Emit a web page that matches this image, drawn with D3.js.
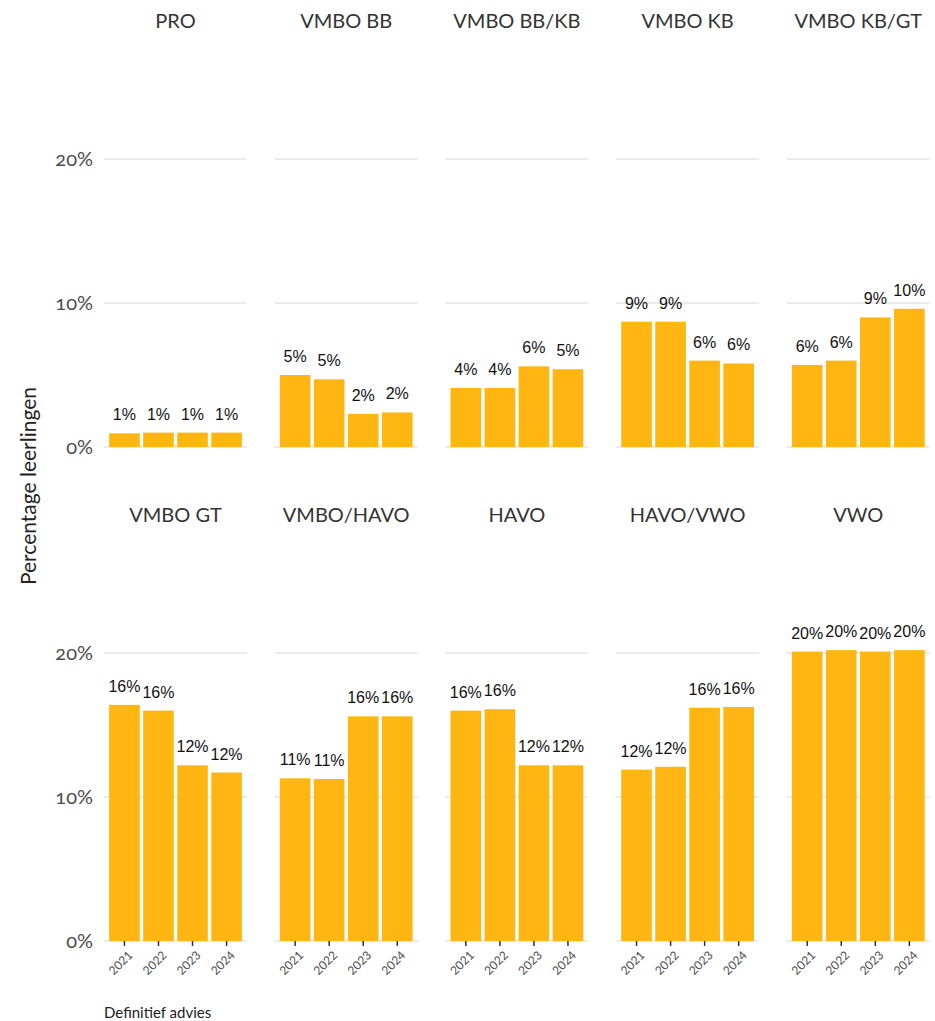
<!DOCTYPE html>
<html><head><meta charset="utf-8">
<script src="https://cdn.jsdelivr.net/npm/d3@7"></script>
<style>
body{margin:0;background:#fff;}
svg{display:block;}
</style></head>
<body>
<svg id="chart" width="935" height="1021"></svg>
<script>
const categories = ["PRO","VMBO BB","VMBO BB/KB","VMBO KB","VMBO KB/GT","VMBO GT","VMBO/HAVO","HAVO","HAVO/VWO","VWO"];
const years = ["2021","2022","2023","2024"];
const valPRO = [0.95, 1.0, 1.0, 1.0];
const valVMBOBB = [5.0, 4.7, 2.3, 2.4];
const valVMBOBBKB = [4.1, 4.1, 5.6, 5.4];
const valVMBOKB = [8.7, 8.7, 6.0, 5.8];
const valVMBOKBGT = [5.7, 6.0, 9.0, 9.6];
const valVMBOGT = [16.4, 16.0, 12.2, 11.7];
const valVMBOHAVO = [11.3, 11.25, 15.6, 15.6];
const valHAVO = [16.0, 16.1, 12.2, 12.2];
const valHAVOVWO = [11.9, 12.1, 16.2, 16.25];
const valVWO = [20.1, 20.2, 20.1, 20.2];
const yTicks = [0, 10, 20];
const yTitle = "Percentage leerlingen";
const xTitle = "Definitief advies";

const seriesVals = [valPRO,valVMBOBB,valVMBOBBKB,valVMBOKB,valVMBOKBGT,valVMBOGT,valVMBOHAVO,valHAVO,valHAVOVWO,valVWO];

const svg = d3.select("#chart");
const font = "Lato, 'Open Sans', sans-serif";
const barColor = "#ffb612";

const panelLeft0 = 104, panelStep = 170.7, panelW = 143;
const rowBase = [447, 941];
const pxPerUnit = 14.4;

categories.forEach((cat, i) => {
  const col = i % 5, row = Math.floor(i / 5);
  const x0 = panelLeft0 + col * panelStep;
  const base = rowBase[row];
  const x = d3.scaleBand().domain(years).range([x0, x0 + panelW]).paddingInner(0.1).paddingOuter(0.15);
  const y = d3.scaleLinear().domain([0, 20]).range([base, base - 20 * pxPerUnit]);
  const g = svg.append("g");

  g.selectAll("line.grid").data(yTicks).join("line")
    .attr("x1", x0).attr("x2", x0 + panelW)
    .attr("y1", d => y(d)).attr("y2", d => y(d))
    .attr("stroke", "#ebebeb").attr("stroke-width", 2);

  g.append("text").attr("x", x0 + panelW / 2).attr("y", base - 419)
    .attr("text-anchor", "middle").attr("font-family", font).attr("font-size", 20)
    .attr("fill", "#333").text(cat);

  const data = years.map((yr, j) => ({yr, v: seriesVals[i][j]}));
  g.selectAll("rect").data(data).join("rect")
    .attr("x", d => x(d.yr)).attr("width", x.bandwidth())
    .attr("y", d => y(d.v)).attr("height", d => y(0) - y(d.v))
    .attr("fill", barColor);

  g.selectAll("text.lbl").data(data).join("text").attr("class", "lbl")
    .attr("x", d => x(d.yr) + x.bandwidth() / 2).attr("y", d => y(d.v) - 13)
    .attr("text-anchor", "middle").attr("font-family", "'Liberation Sans', Arial, sans-serif")
    .attr("font-size", 16).attr("fill", "#111")
    .text(d => Math.round(d.v) + "%");

  if (col === 0) {
    g.selectAll("text.yt").data(yTicks).join("text").attr("class", "yt")
      .attr("x", 93).attr("y", d => y(d)).attr("dy", "0.35em")
      .attr("text-anchor", "end").attr("font-family", font).attr("font-size", 20)
      .style("font-variant-numeric", "oldstyle-nums")
      .attr("fill", "#4d4d4d").text(d => d + "%");
  }
  if (row === 1) {
    g.selectAll("line.tick").data(years).join("line")
      .attr("x1", d => x(d) + x.bandwidth() / 2).attr("x2", d => x(d) + x.bandwidth() / 2)
      .attr("y1", base).attr("y2", base + 5).attr("stroke", "#333").attr("stroke-width", 1.5);
    g.selectAll("text.xt").data(years).join("text")
      .attr("transform", d => `translate(${x(d) + x.bandwidth() / 2 + 9},${base + 15}) rotate(-45)`)
      .attr("text-anchor", "end").attr("font-family", font).attr("font-size", 12)
      .attr("fill", "#4d4d4d").text(d => d);
  }
});

svg.append("text").attr("transform", "translate(36,486) rotate(-90)")
  .attr("text-anchor", "middle").attr("font-family", font).attr("font-size", 21)
  .attr("fill", "#222").text(yTitle);

svg.append("text").attr("x", 104).attr("y", 1018)
  .attr("font-family", font).attr("font-size", 15).attr("fill", "#222").text(xTitle);
</script>
</body></html>
